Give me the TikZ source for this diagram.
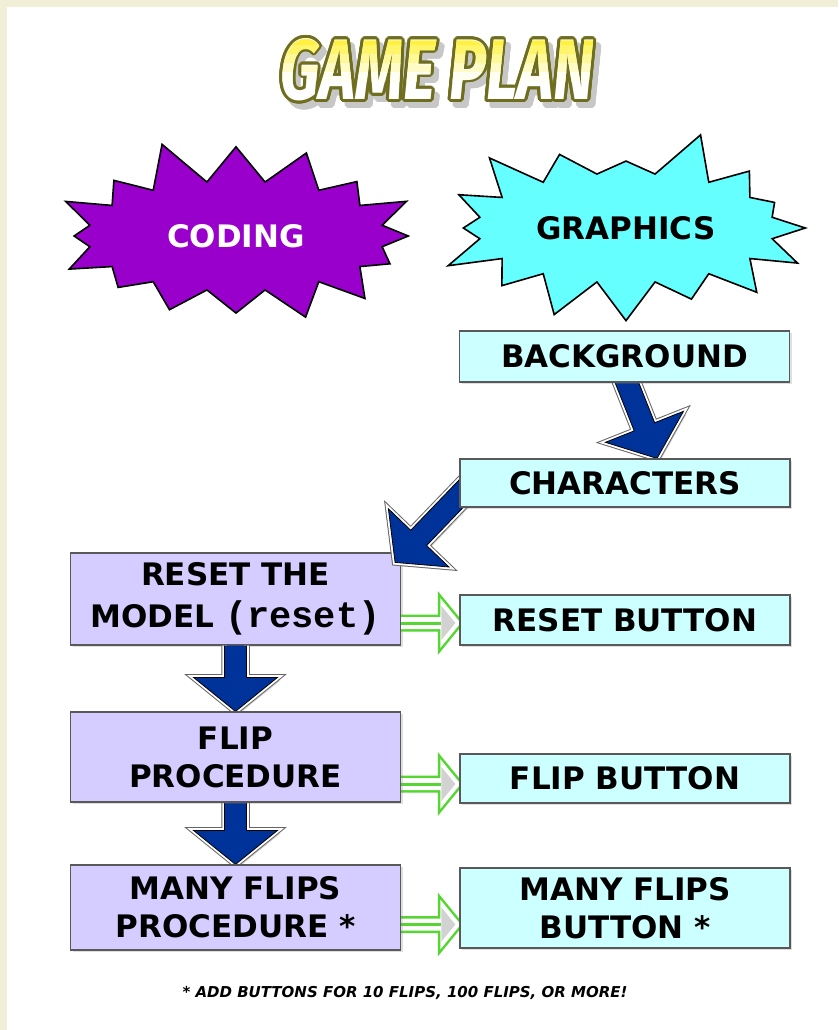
\documentclass[tikz,border=0pt]{standalone}
\usepackage{fontspec}
\setmainfont{DejaVu Sans}
\setmonofont{Liberation Mono}
\newfontfamily\titlefont{Fira Sans}
\usepackage{contour}
\usetikzlibrary{calc,shapes.symbols,shadows}

\definecolor{pagecream}{HTML}{F2EFD8}
\definecolor{codingpurple}{HTML}{9900CC}
\definecolor{graphicscyan}{HTML}{66FFFF}
\definecolor{btncyan}{HTML}{CCFFFF}
\definecolor{proclav}{HTML}{D5CDFF}
\definecolor{arrowblue}{HTML}{003399}
\definecolor{arrowgreen}{HTML}{55D632}
\definecolor{titleyellow}{HTML}{FFEE11}
\definecolor{titleolive}{HTML}{6E6E1E}

\pgfdeclarelayer{back}
\pgfdeclarelayer{mid}
\pgfsetlayers{back,mid,main}

\contourlength{3pt}
\newcommand{\titletext}{\scalebox{0.72}[1]{\titlefont\bfseries\itshape\fontsize{86}{86}\selectfont GAME PLAN}}

% fat connector: style, start, tip, half shaft, half head, head length
\newcommand{\fatarrow}[6]{%
  \coordinate (fab) at ($(#3)!#6!(#2)$);
  \path[#1] ($(#2)!#4!90:(#3)$) -- ($(fab)!#4!-90:(#2)$) -- ($(fab)!#5!-90:(#2)$) -- (#3)
    -- ($(fab)!#5!90:(#2)$) -- ($(fab)!#4!90:(#2)$) -- ($(#2)!#4!-90:(#3)$);
}
\newcommand{\hollowarrow}[2]{%
  \fatarrow{hollowgreen}{#1}{#2}{5pt}{22pt}{18pt}
  \fill[gray!35] ($(fab)!17pt!90:(#1)$) -- ($(#2)!4pt!(#1)$) -- ($(fab)!17pt!-90:(#1)$) -- cycle;
  \draw[arrowgreen, line width=3pt] (#1) -- (fab);
}

\begin{document}
\begin{tikzpicture}[
        x=1pt, y=-1pt,
        font=\bfseries\fontsize{31}{38}\selectfont,
        box/.style={
            rectangle, draw=black!65, line width=1.2pt,
            minimum width=330pt, align=center, inner sep=2pt,
            drop shadow={opacity=0.25, shadow xshift=2pt, shadow yshift=-2pt}
        },
        btn/.style={box, fill=btncyan},
        proc/.style={box, fill=proclav},
        burst/.style={
            starburst, starburst points=16, starburst point height=46pt,
            draw=black, line width=1.6pt,
            minimum width=390pt, minimum height=202pt
        },
        titlenode/.style={inner sep=0pt, anchor=center},
        fatblue/.style={
            drop shadow={opacity=0.35, shadow xshift=3pt, shadow yshift=-3pt},
            preaction={draw=black!60, line width=6.5pt},
            preaction={draw=white, line width=4.5pt},
            fill=arrowblue, draw=black, line width=0.8pt
        },
        hollowgreen/.style={
            drop shadow={opacity=0.3, shadow xshift=2pt, shadow yshift=-2pt},
            preaction={draw=arrowgreen, line width=7pt},
            fill=white, draw=white, line width=2pt
        }
    ]
        \useasboundingbox (0,0) rectangle (838,1030);
        \begin{pgfonlayer}{back}
            \fill[pagecream] (0,0) rectangle (838,1030);
            \fill[white] (7,7) rectangle (838,1030);
        \end{pgfonlayer}

        % Title
        \node[titlenode, text=black!22] (titleshade) at (442,77) {\contour{black!22}{\titletext}};
        \node[titlenode, text=white] (title) at (437,71) {\contour{titleolive}{\titletext}};
        \foreach \i in {0,...,5}{
            \pgfmathtruncatemacro{\pc}{100-\i*19}
            \begin{scope}
                \clip (250,{28+\i*9}) rectangle (630,{37+\i*9});
                \node[titlenode, text=titleyellow!\pc!white] (title\i) at (437,71) {\titletext};
            \end{scope}
        }

        % Bursts
        \node[burst, fill=codingpurple, text=white, random starburst=11] (coding) at (236,236) {CODING};
        \node[burst, fill=graphicscyan, random starburst=23] (graphics) at (626,228) {GRAPHICS};

        % Graphics column
        \node[btn, minimum height=51pt] (bg) at (624.5,356.5) {BACKGROUND};
        \node[btn, minimum height=48pt] (chars) at (625,483) {CHARACTERS};
        \node[btn, minimum height=50pt] (rbtn) at (625,620) {RESET BUTTON};
        \node[btn, minimum height=49pt] (fbtn) at (625,778.5) {FLIP BUTTON};
        \node[btn, minimum height=80pt] (mbtn) at (625,908) {MANY FLIPS\\BUTTON *};

        % Coding column
        \begin{pgfonlayer}{back}
            \node[proc, minimum height=92pt] (rmodel) at (235.5,599)
                {RESET THE\\[4pt]MODEL {\ttfamily\fontsize{37}{38}\selectfont(reset)}};
        \end{pgfonlayer}
        \node[proc, minimum height=90pt] (flip) at (235.5,757) {FLIP\\PROCEDURE};
        \node[proc, minimum height=85pt] (many) at (235.5,907.5) {MANY FLIPS\\PROCEDURE *};

        % Connectors
        \coordinate (a1s) at ($(bg.south)+(0,-6)$);
        \coordinate (a1e) at ($(chars.north)+(32,0)$);
        \coordinate (a2s) at ($(chars.west)+(12,0)$);
        \coordinate (a2e) at ($(rmodel.north east)+(-6,10)$);
        \coordinate (g1s) at ($(rmodel.east)+(0,24)$);
        \coordinate (g1e) at (g1s -| rbtn.west);
        \coordinate (g2s) at ($(flip.east)+(0,27)$);
        \coordinate (g2e) at (g2s -| fbtn.west);
        \coordinate (g3s) at ($(many.east)+(0,17)$);
        \coordinate (g3e) at (g3s -| mbtn.west);
        \begin{pgfonlayer}{mid}
            \fatarrow{fatblue}{a1s}{a1e}{11pt}{42pt}{34pt}
            \fatarrow{fatblue}{a2s}{a2e}{11pt}{42pt}{34pt}
            \fatarrow{fatblue}{rmodel.south}{flip.north}{11pt}{42pt}{34pt}
            \fatarrow{fatblue}{flip.south}{many.north}{11pt}{42pt}{34pt}
            \hollowarrow{g1s}{g1e}
            \hollowarrow{g2s}{g2e}
            \hollowarrow{g3s}{g3e}
        \end{pgfonlayer}

        % Footnote
        \node[font=\bfseries\itshape\fontsize{15}{18}\selectfont] (note) at (405,993)
            {* ADD BUTTONS FOR 10 FLIPS, 100 FLIPS, OR MORE!};
\end{tikzpicture}
\end{document}
